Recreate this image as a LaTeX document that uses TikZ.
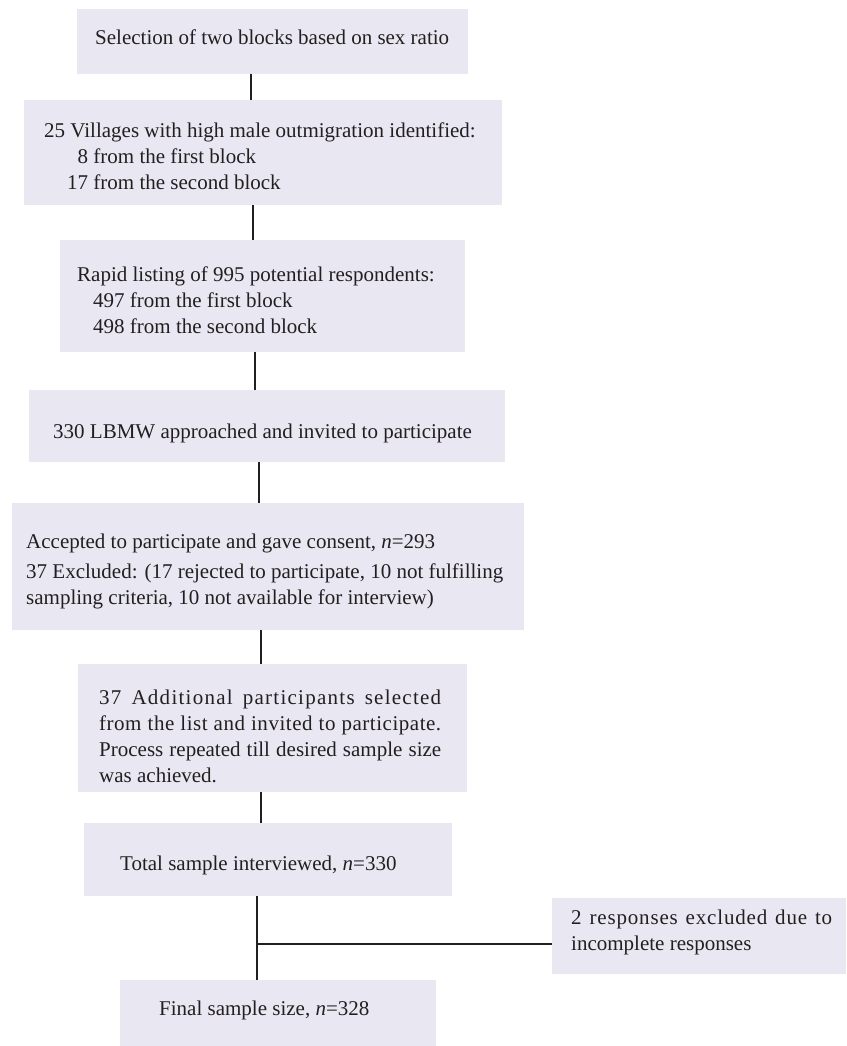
\documentclass[tikz,border=0pt]{standalone}
\usepackage{fontspec}
\setmainfont{Liberation Serif}
\definecolor{boxfill}{RGB}{233,231,242}
\definecolor{ink}{RGB}{35,31,32}
\begin{document}
\begin{tikzpicture}[x=1pt,y=-1pt,
  box/.style={fill=boxfill,draw=none,inner sep=0pt,outer sep=0pt},
  txt/.style={inner sep=0pt,anchor=west,text=ink,font=\fontsize{21}{26}\selectfont,align=left},
  conn/.style={draw=ink,line width=1.6pt}]
\useasboundingbox (0,0) rectangle (846,1046);
% boxes
\node[box,minimum width=391pt,minimum height=65pt] (b1) at (272.5,41.5) {};
\node[box,minimum width=478pt,minimum height=105pt] (b2) at (263,152.5) {};
\node[box,minimum width=405pt,minimum height=112pt] (b3) at (262.5,296) {};
\node[box,minimum width=476pt,minimum height=72pt] (b4) at (267,426) {};
\node[box,minimum width=512pt,minimum height=127pt] (b5) at (268,566.5) {};
\node[box,minimum width=389pt,minimum height=128pt] (b6) at (272.5,728) {};
\node[box,minimum width=368pt,minimum height=73pt] (b7) at (268,859.5) {};
\node[box,minimum width=294pt,minimum height=76pt] (b8) at (699,936) {};
\node[box,minimum width=316pt,minimum height=66pt] (b9) at (278,1013) {};
% texts
\node[txt] (t1) at (95,37) {Selection of two blocks based on sex ratio};
\node[txt] (t2) at (44,156) {25 Villages with high male outmigration identified:\\
\hspace*{23pt}\phantom{1}8 from the first block\\
\hspace*{23pt}17 from the second block};
\node[txt] (t3) at (77,300) {Rapid listing of 995 potential respondents:\\
\hspace*{16pt}497 from the first block\\
\hspace*{16pt}498 from the second block};
\node[txt] (t4) at (53,433) {330 LBMW approached and invited to participate};
\node[txt] (t5) at (26,571) {Accepted to participate and gave consent, \textit{n}=293\\[4pt]
37 Excluded: (17 rejected to participate, 10 not fulfilling\\
sampling criteria, 10 not available for interview)};
\node[txt,text width=342pt,align=justify] (t6) at (99,736) {{\addfontfeature{LetterSpace=6}37 Additional participants selected}\linebreak
{\addfontfeature{LetterSpace=2.5}from the list and invited to participate.}\linebreak
Process repeated till desired sample size\linebreak
was achieved.};
\node[txt] (t7) at (120,865) {Total sample interviewed, \textit{n}=330};
\node[txt,text width=261pt,align=justify] (t8) at (571,932) {{\addfontfeature{LetterSpace=4}2 responses excluded due to}\linebreak
incomplete responses};
\node[txt] (t9) at (159,1010) {Final sample size, \textit{n}=328};
% connector x positions
\coordinate (x1) at (251,0);
\coordinate (x2) at (253,0);
\coordinate (x3) at (255,0);
\coordinate (x4) at (259,0);
\coordinate (x5) at (261,0);
\coordinate (x6) at (261,0);
\coordinate (x7) at (257,0);
\coordinate (br) at (0,944);
\draw[conn] (x1 |- b1.south) -- (x1 |- b2.north);
\draw[conn] (x2 |- b2.south) -- (x2 |- b3.north);
\draw[conn] (x3 |- b3.south) -- (x3 |- b4.north);
\draw[conn] (x4 |- b4.south) -- (x4 |- b5.north);
\draw[conn] (x5 |- b5.south) -- (x5 |- b6.north);
\draw[conn] (x6 |- b6.south) -- (x6 |- b7.north);
\draw[conn] (x7 |- b7.south) -- (x7 |- b9.north);
\draw[conn] (x7 |- br) -- (b8.west |- br);
\end{tikzpicture}
\end{document}
